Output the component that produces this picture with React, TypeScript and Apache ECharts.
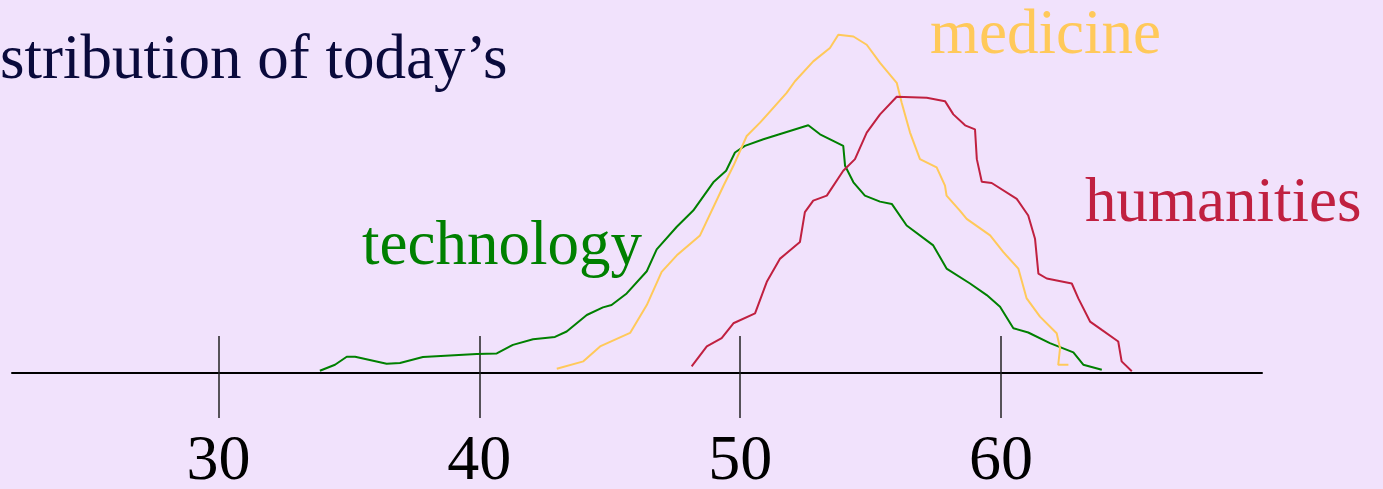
import React, { useEffect, useRef } from "react";
import * as echarts from "echarts";

const xTicks = [30, 40, 50, 60];

const techX = [33.89, 34.47, 34.92, 35.24, 36.45, 36.96, 37.84, 39.9, 40.67, 41.29, 42.06, 42.9, 43.35, 44.12, 44.74, 45.07, 45.65, 46.42, 46.8, 47.57, 48.2, 48.97, 49.46, 49.8, 50.18, 50.89, 52.61, 53.06, 53.95, 54.02, 54.34, 54.78, 55.36, 55.81, 56.38, 57.4, 57.91, 58.81, 59.45, 59.96, 60.47, 61.04, 61.87, 62.77, 63.15, 63.86];
const techY = [0.23, 0.83, 1.63, 1.63, 0.93, 1.0, 1.6, 1.9, 1.97, 2.83, 3.4, 3.63, 4.17, 5.83, 6.6, 6.83, 8.0, 10.23, 12.43, 14.7, 16.33, 19.17, 20.33, 22.17, 22.83, 23.5, 24.9, 24.0, 22.83, 20.83, 19.17, 17.83, 17.23, 17.0, 14.83, 12.83, 10.5, 9.0, 7.83, 6.67, 4.5, 4.07, 3.0, 2.07, 0.83, 0.33];

const medX = [42.97, 43.99, 44.63, 45.78, 46.42, 46.99, 47.57, 48.46, 49.36, 49.74, 50.25, 50.76, 51.78, 52.1, 52.8, 53.44, 53.76, 54.34, 54.85, 55.36, 56.0, 56.19, 56.51, 56.89, 57.53, 57.85, 57.91, 58.42, 58.68, 59.58, 60.08, 60.66, 60.98, 61.49, 62.13, 62.26, 62.19, 62.58];
const medY = [0.43, 1.17, 2.67, 4.03, 6.83, 10.17, 11.83, 13.83, 18.83, 20.83, 23.83, 25.17, 28.17, 29.33, 31.33, 32.67, 34.0, 33.83, 33.0, 31.17, 29.17, 27.17, 24.17, 21.5, 20.67, 18.83, 17.83, 16.33, 15.5, 13.83, 12.17, 10.5, 7.5, 5.67, 4.0, 2.5, 0.83, 0.83];

const humX = [48.14, 48.72, 49.29, 49.74, 50.57, 51.02, 51.53, 52.29, 52.48, 52.8, 53.32, 53.95, 54.4, 54.85, 55.36, 56.0, 57.15, 57.85, 58.17, 58.62, 59.0, 59.07, 59.26, 59.64, 60.6, 61.04, 61.3, 61.43, 61.75, 62.71, 62.96, 63.41, 63.86, 64.49, 64.62, 65.01];
const humY = [0.67, 2.67, 3.5, 5.0, 6.0, 9.17, 11.5, 13.17, 16.17, 17.33, 17.83, 20.33, 21.5, 24.17, 26.0, 27.77, 27.67, 27.33, 26.0, 24.9, 24.5, 21.5, 19.23, 19.1, 17.5, 15.83, 13.5, 10.0, 9.5, 9.0, 7.5, 5.17, 4.33, 3.17, 1.17, 0.17];

const zip = (xs: number[], ys: number[]) => xs.map((x, i) => [x, ys[i]]);

const SERIF = "'Liberation Serif', 'Times New Roman', serif";
const BG = "#f1e2fc";

export default function App() {
  const ref = useRef<HTMLDivElement>(null);
  useEffect(() => {
    if (!ref.current) return;
    const chart = echarts.init(ref.current, null, { renderer: "svg" });
    const tickStyle = { color: "#222", width: 1.5 };
    const lineSeries = (name: string, data: number[][], color: string) => ({
      name,
      type: "line",
      data,
      showSymbol: false,
      symbol: "none",
      smooth: false,
      lineStyle: { color, width: 2 },
      xAxisIndex: 0,
    });
    chart.setOption({
      animation: false,
      backgroundColor: BG,
      grid: { left: 12, right: 121, top: 0, bottom: 114 },
      xAxis: [
        {
          type: "value",
          min: 22.09,
          max: 70,
          position: "bottom",
          axisLine: { show: true, onZero: false, lineStyle: { color: "#000", width: 2 } },
          axisTick: { show: true, inside: false, length: 45, customValues: xTicks, lineStyle: tickStyle },
          axisLabel: {
            customValues: xTicks,
            margin: 84,
            verticalAlign: "middle",
            fontSize: 64,
            lineHeight: 48,
            fontFamily: SERIF,
            color: "#000",
          },
          splitLine: { show: false },
        },
        {
          type: "value",
          min: 22.09,
          max: 70,
          position: "bottom",
          offset: 0,
          axisLine: { show: false, onZero: false },
          axisTick: { show: true, inside: true, length: 37, customValues: xTicks, lineStyle: tickStyle },
          axisLabel: { show: false },
          splitLine: { show: false },
        },
      ],
      yAxis: { type: "value", min: 0, max: 37.5, show: false },
      series: [
        lineSeries("technology", zip(techX, techY), "#008000"),
        lineSeries("medicine", zip(medX, medY), "#ffc95a"),
        lineSeries("humanities", zip(humX, humY), "#c02040"),
      ],
      graphic: [
        { type: "text", style: { x: 0, y: 57, text: "stribution of today\u2019s", font: `63px ${SERIF}`, fill: "#0a0a3c", verticalAlign: "middle" } },
        { type: "text", style: { x: 362, y: 243, text: "technology", font: `63px ${SERIF}`, fill: "#008000", verticalAlign: "middle" } },
        { type: "text", style: { x: 930, y: 32, text: "medicine", font: `63px ${SERIF}`, fill: "#ffc95a", verticalAlign: "middle" } },
        { type: "text", style: { x: 1085, y: 200, text: "humanities", font: `63px ${SERIF}`, fill: "#c02040", verticalAlign: "middle" } },
      ],
    });
    return () => chart.dispose();
  }, []);
  return (
    <div
      ref={ref}
      style={{ position: "absolute", left: 0, top: 0, width: 1383, height: 489, background: BG }}
    />
  );
}
